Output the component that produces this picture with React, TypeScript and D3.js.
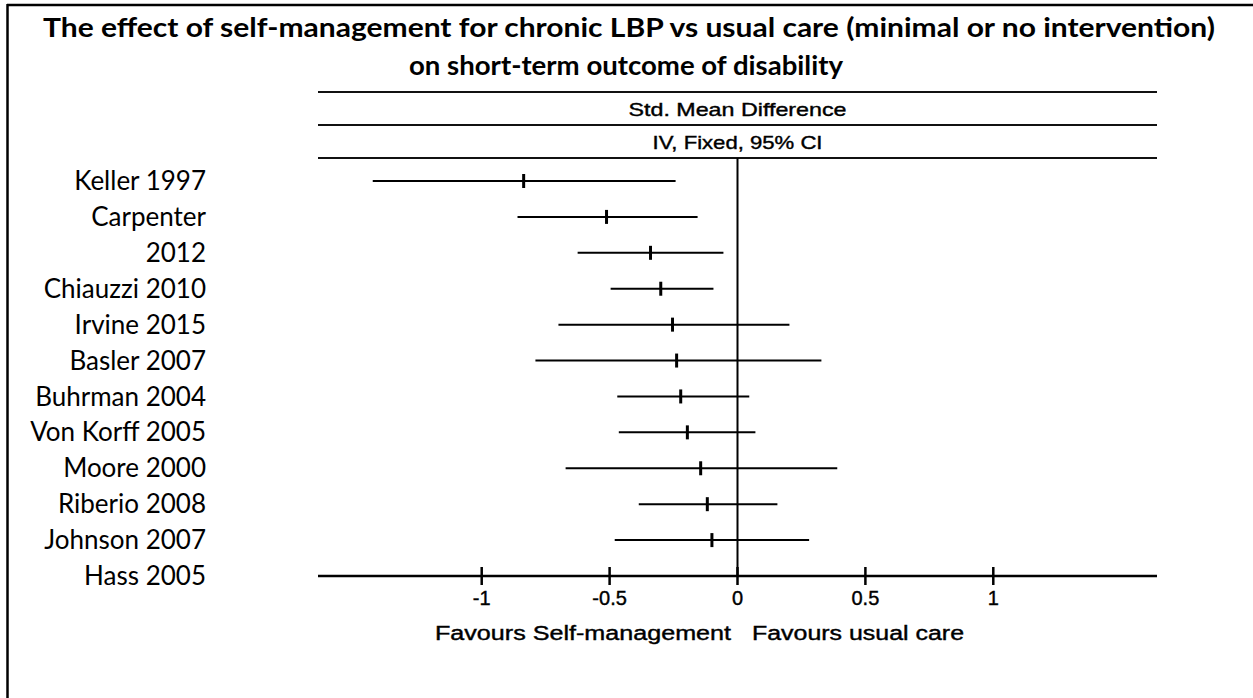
import * as d3 from "d3";
import React from "react";

// study labels as printed on the left (Carpenter 2012 wraps onto two rows)
const rowLabels = [
  "Keller 1997",
  "Carpenter",
  "2012",
  "Chiauzzi 2010",
  "Irvine 2015",
  "Basler 2007",
  "Buhrman 2004",
  "Von Korff 2005",
  "Moore 2000",
  "Riberio 2008",
  "Johnson 2007",
  "Hass 2005",
];

// std. mean difference with 95% CI, one per drawn row
const estimates = [-0.836, -0.512, -0.34, -0.3, -0.254, -0.238, -0.222, -0.196, -0.144, -0.118, -0.1];
const lower = [-1.426, -0.86, -0.625, -0.496, -0.7, -0.79, -0.47, -0.464, -0.672, -0.386, -0.48];
const upper = [-0.242, -0.156, -0.055, -0.094, 0.203, 0.328, 0.046, 0.07, 0.39, 0.156, 0.28];

const tickValues = [-1, -0.5, 0, 0.5, 1];
const tickLabels = ["-1", "-0.5", "0", "0.5", "1"];

const App = () => {
  const ref = React.useRef<SVGSVGElement>(null);

  React.useEffect(() => {
    const width = 1253,
      height = 698;
    const svg = d3.select(ref.current);
    svg.selectAll("*").remove();
    svg.attr("width", width).attr("height", height);

    svg.append("rect").attr("width", width).attr("height", height).attr("fill", "white");

    // frame (top and left edges only visible)
    svg.append("line").attr("x1", 7).attr("x2", width).attr("y1", 5).attr("y2", 5)
      .attr("stroke", "black").attr("stroke-width", 2.5);
    svg.append("line").attr("x1", 7.5).attr("x2", 7.5).attr("y1", 4).attr("y2", height)
      .attr("stroke", "black").attr("stroke-width", 2.5);

    // title
    const title = svg.append("g")
      .attr("font-family", "Lato, 'Open Sans', sans-serif")
      .attr("font-weight", "bold")
      .attr("font-size", 27)
      .attr("fill", "black")
      .attr("text-anchor", "middle");
    title.append("text").attr("x", 629).attr("y", 37)
      .attr("textLength", 1172).attr("lengthAdjust", "spacingAndGlyphs")
      .text("The effect of self-management for chronic LBP vs usual care (minimal or no intervention)");
    title.append("text").attr("x", 626).attr("y", 75)
      .attr("textLength", 434).attr("lengthAdjust", "spacingAndGlyphs")
      .text("on short-term outcome of disability");

    const x = d3.scaleLinear().domain([-1.64, 1.64]).range([318, 1157]);
    const y = d3.scaleLinear().domain([0, 11]).range([181, 576]);
    const axisY = y(11);

    // header rules and column headings
    [92, 125, 158].forEach((yy) => {
      svg.append("line").attr("x1", x(-1.64)).attr("x2", x(1.64)).attr("y1", yy).attr("y2", yy)
        .attr("stroke", "#111").attr("stroke-width", 2);
    });
    const head = svg.append("g")
      .attr("font-family", "'Liberation Sans Narrow', 'Liberation Sans', Arial, sans-serif")
      .attr("font-size", 19)
      .attr("text-anchor", "middle")
      .attr("fill", "black")
      .attr("stroke", "black")
      .attr("stroke-width", 0.4);
    head.append("text").attr("x", x(0)).attr("y", 116)
      .attr("textLength", 218).attr("lengthAdjust", "spacingAndGlyphs")
      .text("Std. Mean Difference");
    head.append("text").attr("x", x(0)).attr("y", 149)
      .attr("textLength", 170).attr("lengthAdjust", "spacingAndGlyphs")
      .text("IV, Fixed, 95% CI");

    // row labels
    svg.append("g")
      .attr("font-family", "Lato, 'Open Sans', sans-serif")
      .attr("font-size", 26)
      .attr("text-anchor", "end")
      .attr("fill", "black")
      .selectAll("text")
      .data(rowLabels)
      .enter()
      .append("text")
      .attr("x", 206)
      .attr("y", (d, i) => y(i))
      .attr("dy", "0.35em")
      .text((d) => d);

    // zero line
    svg.append("line").attr("x1", x(0)).attr("x2", x(0)).attr("y1", 158).attr("y2", axisY)
      .attr("stroke", "black").attr("stroke-width", 2);

    // confidence intervals
    const rows = estimates.map((e, i) => ({ e, lo: lower[i], hi: upper[i], i }));
    svg.append("g").selectAll("line")
      .data(rows)
      .enter()
      .append("line")
      .attr("x1", (d) => x(d.lo))
      .attr("x2", (d) => x(d.hi))
      .attr("y1", (d) => y(d.i))
      .attr("y2", (d) => y(d.i))
      .attr("stroke", "black")
      .attr("stroke-width", 2);

    // point estimates
    svg.append("g").selectAll("line")
      .data(rows)
      .enter()
      .append("line")
      .attr("x1", (d) => x(d.e))
      .attr("x2", (d) => x(d.e))
      .attr("y1", (d) => y(d.i) - 7)
      .attr("y2", (d) => y(d.i) + 7)
      .attr("stroke", "black")
      .attr("stroke-width", 3);

    // bottom axis
    const axisG = svg.append("g").attr("transform", `translate(0,${axisY})`);
    axisG.append("line").attr("x1", x(-1.64)).attr("x2", x(1.64))
      .attr("stroke", "black").attr("stroke-width", 2.5);
    axisG.selectAll(".tick")
      .data(tickValues)
      .enter()
      .append("line")
      .attr("x1", (d) => x(d))
      .attr("x2", (d) => x(d))
      .attr("y1", -9)
      .attr("y2", 9)
      .attr("stroke", "black")
      .attr("stroke-width", 2.5);
    axisG.append("g")
      .attr("font-family", "'Liberation Sans Narrow', 'Liberation Sans', Arial, sans-serif")
      .attr("font-size", 20)
      .attr("text-anchor", "middle")
      .attr("stroke", "black")
      .attr("stroke-width", 0.4)
      .selectAll("text")
      .data(tickValues)
      .enter()
      .append("text")
      .attr("x", (d) => x(d))
      .attr("y", 29)
      .text((d, i) => tickLabels[i]);

    // direction captions
    const fav = svg.append("g")
      .attr("font-family", "'Liberation Sans Narrow', 'Liberation Sans', Arial, sans-serif")
      .attr("font-size", 20)
      .attr("fill", "black")
      .attr("stroke", "black")
      .attr("stroke-width", 0.4);
    fav.append("text").attr("x", 435).attr("y", 640)
      .attr("textLength", 296).attr("lengthAdjust", "spacingAndGlyphs")
      .text("Favours Self-management");
    fav.append("text").attr("x", 752).attr("y", 640)
      .attr("textLength", 212).attr("lengthAdjust", "spacingAndGlyphs")
      .text("Favours usual care");
  }, []);

  return <svg ref={ref} style={{ display: "block", position: "absolute", left: 0, top: 0 }} />;
};

export default App;
